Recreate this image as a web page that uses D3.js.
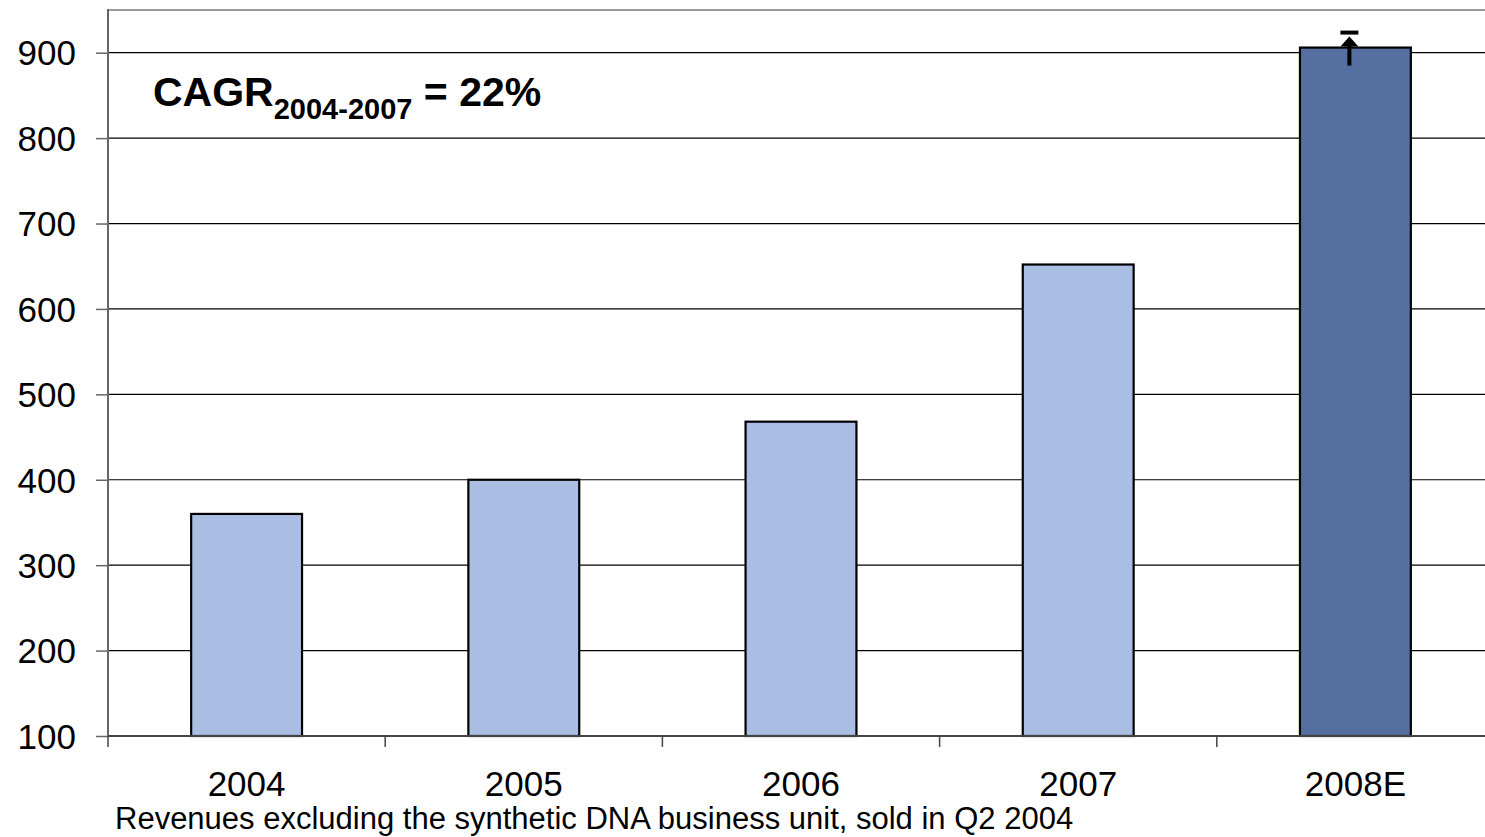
<!DOCTYPE html>
<html>
<head>
<meta charset="utf-8">
<script src="https://cdn.jsdelivr.net/npm/d3@7"></script>
<style>
  html, body { margin: 0; padding: 0; background: #fff; }
  svg { display: block; font-family: "Liberation Sans", Arial, sans-serif; }
</style>
</head>
<body>
<svg id="chart" width="1485" height="837"></svg>
<script>
// Revenue by year (2008 is an estimate)
const categories = ["2004", "2005", "2006", "2007", "2008E"];
const revenues = [360, 400, 468, 652, 906];
const estimated = [false, false, false, false, true];
const yTicks = [100, 200, 300, 400, 500, 600, 700, 800, 900];
const footnote = "Revenues excluding the synthetic DNA business unit, sold in Q2 2004";

const svg = d3.select("#chart");
const plotLeft = 108, plotRight = 1494, plotTop = 10, plotBottom = 736;

const x = d3.scaleBand().domain(categories).range([plotLeft, plotRight]).padding(0);
const y = d3.scaleLinear().domain([100, 950]).range([plotBottom, plotTop]);

// horizontal gridlines
svg.append("g").selectAll("line").data(yTicks.slice(1)).join("line")
  .attr("x1", plotLeft).attr("x2", plotRight)
  .attr("y1", d => y(d)).attr("y2", d => y(d))
  .attr("stroke", "#000").attr("stroke-width", 1.2);

// top frame line
svg.append("line")
  .attr("x1", plotLeft).attr("x2", plotRight).attr("y1", plotTop).attr("y2", plotTop)
  .attr("stroke", "#999").attr("stroke-width", 2);

// y axis
const yAxis = svg.append("g").attr("transform", `translate(${plotLeft},0)`)
  .call(d3.axisLeft(y).tickValues(yTicks).tickSize(12).tickPadding(20).tickFormat(d3.format("d")));
yAxis.select(".domain").remove();
yAxis.selectAll(".tick line").attr("stroke", "#666").attr("stroke-width", 1.5);
yAxis.selectAll(".tick text").attr("font-size", 35).attr("fill", "#000")
  .attr("font-family", "Liberation Sans, Arial, sans-serif").attr("dy", "0.35em");
svg.append("line")
  .attr("x1", plotLeft).attr("x2", plotLeft).attr("y1", plotTop - 1).attr("y2", plotBottom + 1)
  .attr("stroke", "#666").attr("stroke-width", 2);

// bars
const barW = x.bandwidth() * 0.4;
svg.append("g").selectAll("rect").data(categories).join("rect")
  .attr("x", (d) => x(d) + (x.bandwidth() - barW) / 2)
  .attr("y", (d, i) => y(revenues[i]))
  .attr("width", barW)
  .attr("height", (d, i) => plotBottom - y(revenues[i]))
  .attr("fill", (d, i) => estimated[i] ? "#546FA0" : "#AABEE3")
  .attr("stroke", "#000").attr("stroke-width", 2.2);

// x axis baseline and category separators
svg.append("line")
  .attr("x1", plotLeft).attr("x2", plotRight).attr("y1", plotBottom).attr("y2", plotBottom)
  .attr("stroke", "#444").attr("stroke-width", 2);
svg.append("g").selectAll("line").data(categories).join("line")
  .attr("x1", d => x(d)).attr("x2", d => x(d))
  .attr("y1", plotBottom).attr("y2", plotBottom + 11)
  .attr("stroke", "#444").attr("stroke-width", 1.5);

// category labels
svg.append("g").selectAll("text").data(categories).join("text")
  .attr("x", d => x(d) + x.bandwidth() / 2)
  .attr("y", 796)
  .attr("text-anchor", "middle")
  .attr("font-size", 35)
  .attr("fill", "#000")
  .text(d => d);

// upward arrow above the estimate bar
const last = categories.length - 1;
const ax = x(categories[last]) + x.bandwidth() / 2 - 6;
const ay = y(revenues[last]);
svg.append("line")
  .attr("x1", ax).attr("x2", ax).attr("y1", ay + 18).attr("y2", ay - 4)
  .attr("stroke", "#000").attr("stroke-width", 4);
svg.append("path")
  .attr("d", `M${ax - 9},${ay - 1} L${ax},${ay - 11} L${ax + 9},${ay - 1} Z`)
  .attr("fill", "#000");
svg.append("rect")
  .attr("x", ax - 9).attr("y", ay - 17).attr("width", 18).attr("height", 4)
  .attr("fill", "#000");

// growth annotation
const cagr = svg.append("text")
  .attr("x", 153).attr("y", 106)
  .attr("font-size", 41).attr("font-weight", "bold").attr("fill", "#000");
cagr.append("tspan").text("CAGR");
cagr.append("tspan").attr("font-size", 29).attr("dy", 13).text("2004-2007");
cagr.append("tspan").attr("dy", -13).text(" = 22%");

// footnote
svg.append("text")
  .attr("x", 115).attr("y", 829)
  .attr("font-size", 31).attr("fill", "#000")
  .text(footnote);
</script>
</body>
</html>
